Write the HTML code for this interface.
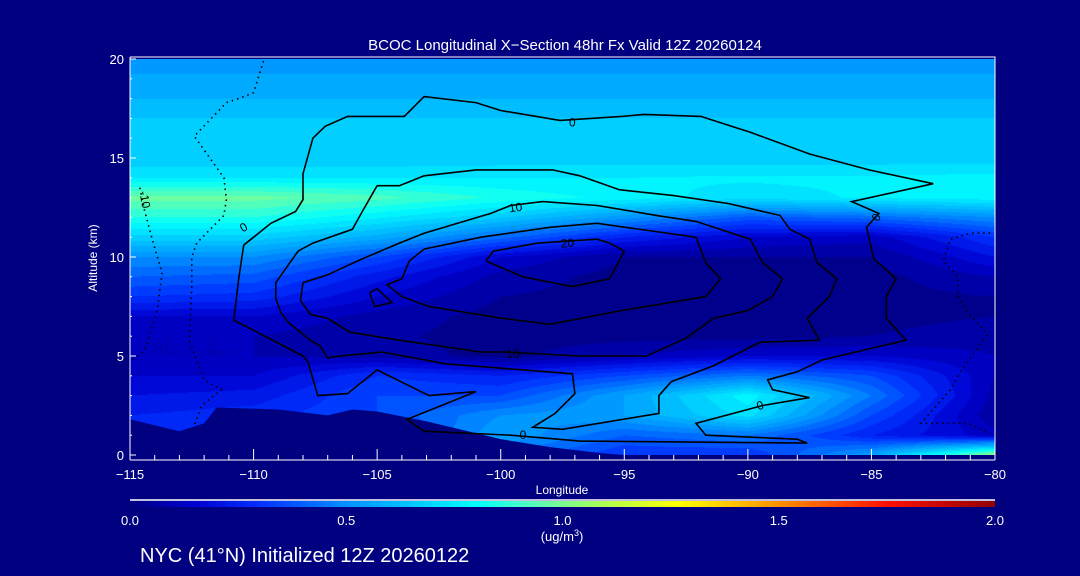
<!DOCTYPE html>
<html><head><meta charset="utf-8">
<style>
html,body{margin:0;padding:0;background:#000080;width:1080px;height:576px;overflow:hidden}
#wrap{position:relative;width:1080px;height:576px}
canvas{position:absolute;left:130px;top:59px}
svg{position:absolute;left:0;top:0}
text{font-family:"Liberation Sans",sans-serif;fill:#fff}
</style></head>
<body>
<div id="wrap">
<canvas id="field" width="865" height="396"></canvas>
<svg id="svg" width="1080" height="576"></svg>
</div>
<script>
// ---- data ----
const lons = [-115,-110,-105,-100,-95,-90,-85,-80];
const alts = [0,1,2,3,4,5,6,7,8,9,10,11,12,13,14,15,16,17,18,19,20];
const col115 = [0.25,0.25,0.25,0.2,0.15,0.1,0.1,0.15,0.3,0.4,0.5,0.68,0.85,0.97,0.75,0.66,0.66,0.65,0.6,0.56,0.52];
const col110 = [0.25,0.25,0.28,0.22,0.15,0.1,0.1,0.15,0.28,0.38,0.5,0.68,0.85,0.97,0.75,0.66,0.66,0.65,0.6,0.56,0.52];
const col105 = [0.3,0.3,0.35,0.35,0.3,0.08,0.06,0.08,0.15,0.22,0.35,0.58,0.76,0.92,0.75,0.66,0.66,0.65,0.6,0.56,0.52];
const col100 = [0.45,0.55,0.5,0.35,0.25,0.03,0.03,0.03,0.05,0.08,0.15,0.42,0.66,0.84,0.75,0.67,0.66,0.65,0.6,0.56,0.52];
const col95  = [0.3,0.4,0.55,0.55,0.35,0.1,0.03,0.03,0.03,0.03,0.05,0.25,0.52,0.78,0.75,0.67,0.66,0.65,0.6,0.56,0.52];
const col90  = [0.3,0.45,0.72,0.78,0.45,0.15,0.03,0.03,0.03,0.03,0.05,0.15,0.38,0.72,0.76,0.67,0.66,0.65,0.6,0.56,0.52];
const col85  = [0.55,0.25,0.35,0.45,0.35,0.15,0.05,0.03,0.03,0.03,0.05,0.12,0.42,0.76,0.76,0.67,0.66,0.65,0.6,0.56,0.52];
const col80  = [1.05,0.12,0.06,0.08,0.1,0.1,0.08,0.05,0.05,0.1,0.2,0.3,0.5,0.78,0.77,0.67,0.66,0.65,0.6,0.56,0.52];
const grid = [col115,col110,col105,col100,col95,col90,col85,col80];
const groundLon = [-115,-113,-112,-111.5,-109,-107,-106,-105,-103,-100,-98,-96,-95,-95];
const groundAlt = [1.8,1.2,1.6,2.4,2.3,2.0,2.3,2.2,1.7,0.8,0.4,0.1,0,0];
const cbarVals = [0,0.15,0.3,0.5,0.7,0.8,0.95,1.1,1.27,1.5,1.75,2.0];
const cbarCols = ["#000080","#0000d0","#0030ff","#0090ff","#00d8ff","#00ffff","#60ffb0","#b0ff50","#ffff00","#ff9000","#ff1000","#900000"];
const xTicks = [-115,-110,-105,-100,-95,-90,-85,-80];
const yTicks = [0,5,10,15,20];
const cbarTicks = ["0.0","0.5","1.0","1.5","2.0"];
const contourA = [[-105.0,13.6],[-105.6,12.3],[-106.0,11.4],[-107.6,10.7],[-108.2,10.3],[-109.1,8.7],[-109.1,7.9],[-108.9,7.2],[-108.6,6.7],[-107.7,5.8],[-107.3,5.5],[-107.0,4.9],[-106.5,5.0],[-104.8,5.2],[-102.2,4.6],[-97.1,4.1],[-97.0,3.1],[-97.8,2.1],[-98.7,1.4],[-97.5,1.3],[-93.6,2.1],[-93.6,3.0],[-93.1,3.7],[-91.4,4.5],[-89.5,5.7],[-87.1,5.8],[-87.6,6.9],[-86.7,8.0],[-86.4,8.9],[-87.2,9.7],[-87.5,10.9],[-88.3,11.4],[-88.7,12.1],[-90.8,12.7],[-93.0,13.1],[-95.2,13.4],[-96.8,14.1],[-97.9,14.4],[-101.0,14.4],[-103.1,14.1],[-104.1,13.6],[-105.0,13.6]];
const contourB = [[-99.6,12.6],[-98.3,12.8],[-96.1,12.6],[-93.7,12.1],[-92.1,11.8],[-89.9,10.9],[-89.4,9.7],[-88.6,8.9],[-89.0,8.0],[-90.0,7.3],[-91.4,6.9],[-92.5,5.9],[-94.1,5.0],[-96.8,5.0],[-99.9,5.2],[-100.8,5.2],[-104.1,5.8],[-106.1,6.2],[-107.0,6.9],[-107.7,7.1],[-108.1,7.8],[-108.0,8.7],[-107.0,9.1],[-105.8,9.8],[-104.1,10.7],[-103.1,11.2],[-100.4,12.2],[-99.6,12.6]];
const contourC = [[-104.0,8.9],[-104.6,8.6],[-104.0,8.0],[-102.9,7.5],[-99.9,6.9],[-98.0,6.6],[-95.1,7.3],[-91.7,8.0],[-91.1,8.9],[-91.7,9.7],[-92.1,11.0],[-96.1,11.7],[-98.0,11.5],[-100.8,11.0],[-103.1,10.4],[-103.7,9.8],[-104.0,8.9]];
const contourD = [[-100.6,9.8],[-100.3,10.3],[-98.5,10.7],[-96.1,10.9],[-95.6,10.7],[-95.0,10.3],[-95.6,8.9],[-97.1,8.5],[-99.1,9.0],[-100.6,9.8]];
const contourE = [[-105.3,8.2],[-105.0,8.4],[-104.4,7.7],[-105.1,7.5],[-105.3,8.2]];
const contourOuter = [[-110.8,6.8],[-110.6,8.9],[-110.4,10.6],[-109.3,11.7],[-108.3,12.3],[-108.0,12.9],[-108.0,14.2],[-107.6,16.0],[-107.1,16.6],[-106.2,17.1],[-103.9,17.1],[-103.1,18.1],[-101.0,17.8],[-100.0,17.4],[-97.6,16.9],[-95.1,17.1],[-94.2,17.2],[-91.9,17.1],[-89.9,16.3],[-87.5,15.2],[-85.1,14.4],[-82.5,13.7],[-85.8,12.8],[-84.7,12.2],[-85.2,11.5],[-84.9,9.9],[-84.0,8.9],[-84.4,8.0],[-84.4,6.9],[-83.6,5.8],[-87.0,4.8],[-88.0,4.2],[-89.2,3.8],[-89.0,3.3],[-87.5,2.9],[-89.4,2.5],[-92.1,1.6],[-91.7,1.0],[-88.0,0.8],[-87.6,0.6],[-96.8,0.7],[-99.6,1.0],[-103.1,1.2],[-103.8,1.8],[-101.0,3.2],[-102.9,3.0],[-105.0,4.3],[-106.2,3.1],[-107.4,3.0],[-107.8,4.7],[-108.0,5.0],[-110.0,6.3],[-110.8,6.8]];
const dottedL1 = [[-109.6,19.9],[-110.0,18.3],[-110.6,18.0],[-111.1,17.8],[-112.4,16.1],[-111.2,14.0],[-111.1,12.9],[-111.2,12.1],[-112.3,10.7],[-112.5,10.0],[-112.5,8.5],[-112.6,5.8],[-112.0,3.8],[-111.3,3.3],[-112.1,2.5],[-112.4,1.5]];
const dottedL2 = [[-114.6,13.5],[-114.4,12.3],[-114.1,10.9],[-113.7,9.2],[-113.9,7.3],[-114.4,5.3],[-114.9,4.8]];
const dottedR = [[-80.2,11.2],[-81.0,11.2],[-81.8,10.9],[-82.1,9.8],[-81.5,9.0],[-81.5,8.0],[-81.1,7.2],[-80.3,6.1],[-81.4,4.2],[-81.8,3.3],[-83.0,1.6],[-81.1,1.6],[-80.2,1.1]];
const labelText = ["0","10","20","10","0","0","0","0","-10"];
const labelLon = [-97.1,-99.4,-97.3,-99.5,-110.4,-84.8,-89.5,-99.1,-114.4];
const labelAlt = [16.8,12.5,10.7,5.1,11.5,12.0,2.5,1.0,12.9];
const labelRot = [0,-8,-5,0,-30,-60,-20,0,80];

// ---- axes ----
const X0=130, X1=995, YT=59, YB=455;
function xs(lon){return X0+(lon+115)*(X1-X0)/35;}
function ys(alt){return YB-alt*(YB-YT)/20;}

// ---- field ----
function hex(c){return [parseInt(c.substr(1,2),16),parseInt(c.substr(3,2),16),parseInt(c.substr(5,2),16)];}
const cRGB = cbarCols.map(hex);
function cmap(v){
  if(v<=cbarVals[0]) return cRGB[0];
  for(let i=1;i<cbarVals.length;i++){
    if(v<=cbarVals[i]){const t=(v-cbarVals[i-1])/(cbarVals[i]-cbarVals[i-1]);const a=cRGB[i-1],b=cRGB[i];return [a[0]+(b[0]-a[0])*t,a[1]+(b[1]-a[1])*t,a[2]+(b[2]-a[2])*t];}
  }
  return cRGB[cRGB.length-1];
}
function sample(lon,alt){
  let fi=(lon-lons[0])/5; fi=Math.max(0,Math.min(lons.length-1.0001,fi));
  let fj=alt; fj=Math.max(0,Math.min(alts.length-1.0001,fj));
  const i=Math.floor(fi),j=Math.floor(fj),u=fi-i,w=fj-j;
  const a=grid[i][j],b=grid[i+1][j],c=grid[i][j+1],d=grid[i+1][j+1];
  return a*(1-u)*(1-w)+b*u*(1-w)+c*(1-u)*w+d*u*w;
}
(function(){
  const cv=document.getElementById('field'),ctx=cv.getContext('2d');
  const W=cv.width,H=cv.height,img=ctx.createImageData(W,H);
  for(let py=0;py<H;py++){
    const alt=(YB-(YT+py+0.5))*20/(YB-YT);
    for(let px=0;px<W;px++){
      const lon=-115+(px+0.5)*35/(X1-X0);
      let v=sample(lon,alt);
      v=Math.floor(v/0.05)*0.05+0.025;
      const c=cmap(v),k=(py*W+px)*4;
      img.data[k]=c[0];img.data[k+1]=c[1];img.data[k+2]=c[2];img.data[k+3]=255;
    }
  }
  ctx.putImageData(img,0,0);
})();

// ---- svg ----
const NS="http://www.w3.org/2000/svg", svg=document.getElementById('svg');
function mk(tag,attrs,parent){const e=document.createElementNS(NS,tag);for(const k in attrs)e.setAttribute(k,attrs[k]);(parent||svg).appendChild(e);return e;}

const defs=mk('defs',{});
const lg=mk('linearGradient',{id:'cb',x1:'0',x2:'1',y1:'0',y2:'0'},defs);
cbarVals.forEach((v,i)=>mk('stop',{offset:(v/2),'stop-color':cbarCols[i]},lg));

let gp=groundLon.map((l,i)=>xs(l)+','+ys(groundAlt[i])).join(' ');
gp+=' '+xs(-95)+','+YB+' '+xs(-115)+','+YB;
const ground=mk('polygon',{points:gp,fill:'#000080'});



function line(pts,dash,name){
  const e=mk('polyline',{points:pts.map(p=>xs(p[0]).toFixed(1)+','+ys(p[1]).toFixed(1)).join(' '),fill:'none',stroke:'#000','stroke-width':1.6,'stroke-dasharray':dash?'1.5,4':'none'});
  
  
}
line(contourOuter,false,'contour-0-outer');
line(contourA,false,'contour-5');
line(contourB,false,'contour-10');
line(contourC,false,'contour-15');
line(contourD,false,'contour-20');
line(contourE,false,'contour-small-loop');
line(dottedL1,true,'contour-negative-left');
line(dottedL2,true,'contour-minus-10');
line(dottedR,true,'contour-negative-right');

labelText.forEach((t,i)=>{
  const x=xs(labelLon[i]),y=ys(labelAlt[i]);
  const e=mk('text',{x:x,y:y+4,'font-size':12,'text-anchor':'middle',transform:'rotate('+labelRot[i]+' '+x+' '+y+')',style:'fill:#000'});
  e.textContent=t;
  
  
});

const fr=mk('polyline',{points:`${X0},${YT-2} ${X1},${YT-2} ${X1},460`,fill:'none',stroke:'#fff','stroke-width':1});


const ya=mk('line',{x1:X0,y1:YT-2,x2:X0,y2:460,stroke:'#fff','stroke-width':1});


const xa=mk('line',{x1:X0,y1:460,x2:X1,y2:460,stroke:'#fff','stroke-width':1});



for(let l=-115;l<=-80;l++){
  const major=(l%5===0);
  const t=mk('line',{x1:xs(l),x2:xs(l),y1:460,y2:major?449:455,stroke:'#fff','stroke-width':1});
  
  
}
xTicks.forEach(l=>{
  const e=mk('text',{x:xs(l),y:479,'font-size':13,'text-anchor':'middle'});
  e.textContent=String(l).replace('-','\u2212');
  
  
});
for(let a=0;a<=20;a++){
  const t=mk('line',{x1:X0,x2:X0+(a%5===0?6:2),y1:ys(a),y2:ys(a),stroke:'#fff','stroke-width':1});
  
  
}
yTicks.forEach(a=>{
  const e=mk('text',{x:124,y:ys(a)+5,'font-size':13,'text-anchor':'end'});
  e.textContent=String(a);
  
  
});

const tt=mk('text',{x:565,y:50,'font-size':15,'text-anchor':'middle'});
tt.textContent='BCOC Longitudinal X\u2212Section 48hr  Fx Valid 12Z 20260124';


const xt=mk('text',{x:562,y:494,'font-size':12,'text-anchor':'middle'});
xt.textContent='Longitude';


const yt=mk('text',{x:97,y:258,'font-size':12,'text-anchor':'middle',transform:'rotate(-90 97 258)'});
yt.textContent='Altitude (km)';



const cbl=mk('line',{x1:X0,x2:X1,y1:500,y2:500,stroke:'#fff','stroke-width':1.5});


const cb=mk('rect',{x:X0,y:501,width:X1-X0,height:6,fill:'url(#cb)'});


cbarTicks.forEach((t,i)=>{
  const e=mk('text',{x:X0+i*(X1-X0)/4,y:525,'font-size':13,'text-anchor':'middle'});
  e.textContent=t;
  
  
});
const un=mk('text',{x:562,y:541,'font-size':13,'text-anchor':'middle'});
un.innerHTML='(ug/m<tspan dy="-5" font-size="9">3</tspan><tspan dy="5">)</tspan>';


const ft=mk('text',{x:140,y:562,'font-size':20});
ft.textContent='NYC (41\u00B0N) Initialized 12Z 20260122';


</script>
</body></html>
